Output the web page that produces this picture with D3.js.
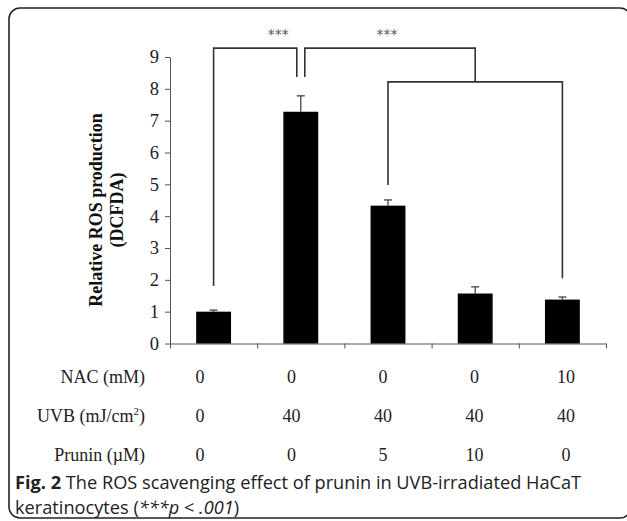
<!DOCTYPE html>
<html>
<head>
<meta charset="utf-8">
<script src="https://cdn.jsdelivr.net/npm/d3@7"></script>
<style>
  body { margin: 0; background: #fff; }
  svg { display: block; }
</style>
</head>
<body>
<svg id="chart" width="627" height="521"></svg>
<script>
// data
const groups = ['g1', 'g2', 'g3', 'g4', 'g5']
const rosValues = [1.0, 7.28, 4.33, 1.57, 1.38]
const rosErrors = [0.05, 0.5, 0.18, 0.21, 0.08]
const yTicks = [0, 1, 2, 3, 4, 5, 6, 7, 8, 9]

const rowLabels = ['NAC (mM)', 'UVB (mJ/cm²)', 'Prunin (µM)']
const nacRow = ['0', '0', '0', '0', '10']
const uvbRow = ['0', '40', '40', '40', '40']
const pruninRow = ['0', '0', '5', '10', '0']

// brackets: from group -> to group, top level, foot levels (data units)
const brackets = [
    {from: 0, to: 1, top: 9.28, footFrom: 1.81, footTo: 8.37, label: '***'},
    {from: 1, to: 'mid34', top: 9.28, footFrom: 8.37, footTo: 8.22, label: '***'},
    {from: 2, to: 4, top: 8.22, footFrom: 4.98, footTo: 2.05, label: ''}
]

const svg = d3.select('#chart')

// rounded frame of the figure panel
svg.append('rect')
    .attr('x', 9).attr('y', 8)
    .attr('width', 622).attr('height', 510)
    .attr('rx', 11)
    .attr('fill', 'none')
    .attr('stroke', '#222')
    .attr('stroke-width', 1.6)

const plot = {left: 170, right: 606, top: 57, bottom: 343.5}

const x = d3.scaleBand()
    .domain(groups)
    .range([plot.left, plot.right])
    .paddingInner(0.6)
    .paddingOuter(0.3)

const y = d3.scaleLinear()
    .domain([0, 9])
    .range([plot.bottom, plot.top])

const xEdge = d3.scaleLinear()
    .domain([0, groups.length])
    .range([plot.left, plot.right])

const cx = i => x(groups[i]) + x.bandwidth() / 2

// axes
const yAxis = d3.axisLeft(y)
    .tickValues(yTicks)
    .tickSize(5)
    .tickSizeOuter(0)
    .tickPadding(6)

const yAxisGroup = svg.append('g')
    .attr('transform', `translate(${plot.left},0)`)
    .call(yAxis)

yAxisGroup.selectAll('text')
    .attr('font-family', '"Liberation Serif", "Times New Roman", serif')
    .attr('font-size', 18.5)
    .attr('fill', '#222')
yAxisGroup.selectAll('line, path').attr('stroke', '#555')

const xAxis = d3.axisBottom(xEdge)
    .ticks(groups.length)
    .tickFormat('')
    .tickSize(5)
    .tickSizeOuter(0)

const xAxisGroup = svg.append('g')
    .attr('transform', `translate(0,${plot.bottom})`)
    .call(xAxis)
xAxisGroup.selectAll('line, path').attr('stroke', '#555')

// y title
svg.append('text')
    .attr('transform', `translate(102,210) rotate(-90)`)
    .attr('text-anchor', 'middle')
    .attr('font-family', '"Liberation Serif", "Times New Roman", serif')
    .attr('font-weight', 'bold')
    .attr('font-size', 18)
    .attr('fill', '#111')
    .selectAll('tspan')
    .data(['Relative ROS production', '(DCFDA)'])
    .enter().append('tspan')
        .attr('x', 0)
        .attr('dy', (d, i) => i ? 21 : 0)
        .text(d => d)

// error bars (upper only)
const errG = svg.append('g')
    .attr('stroke', '#444')
    .attr('stroke-width', 1.3)

errG.selectAll('line.stem')
    .data(rosValues)
    .enter().append('line')
        .attr('class', 'stem')
        .attr('x1', (d, i) => cx(i))
        .attr('x2', (d, i) => cx(i))
        .attr('y1', d => y(d))
        .attr('y2', (d, i) => y(d + rosErrors[i]))

errG.selectAll('line.cap')
    .data(rosValues)
    .enter().append('line')
        .attr('class', 'cap')
        .attr('x1', (d, i) => cx(i) - 4)
        .attr('x2', (d, i) => cx(i) + 4)
        .attr('y1', (d, i) => y(d + rosErrors[i]))
        .attr('y2', (d, i) => y(d + rosErrors[i]))

// bars
svg.append('g').selectAll('rect')
    .data(rosValues)
    .enter().append('rect')
        .attr('x', (d, i) => x(groups[i]))
        .attr('y', d => y(d))
        .attr('width', x.bandwidth())
        .attr('height', d => y(0) - y(d))
        .attr('fill', '#000')

// significance brackets
const legX = (b, side) => {
    const g = side == 'from' ? b.from : b.to
    if (g == 'mid34') return (cx(2) + cx(4)) / 2
    // the two brackets meeting on bar 2 sit either side of its centre
    if (g == 1 && side == 'to') return cx(1) - 4
    if (g == 1 && side == 'from') return cx(1) + 4
    return cx(g)
}

const bracketG = svg.append('g')

brackets.forEach(b => {
    const x1 = legX(b, 'from')
    const x2 = legX(b, 'to')
    bracketG.append('path')
        .attr('d', d3.line()([
            [x1, y(b.footFrom)],
            [x1, y(b.top)],
            [x2, y(b.top)],
            [x2, y(b.footTo)]
        ]))
        .attr('fill', 'none')
        .attr('stroke', '#333')
        .attr('stroke-width', 1.6)
    if (b.label) {
        const mx = b.from == 0 ? (cx(0) + cx(1)) / 2 + 21 : (x1 + x2) / 2 - 3
        bracketG.append('text')
            .attr('x', mx)
            .attr('y', y(b.top) - 9)
            .attr('text-anchor', 'middle')
            .attr('font-family', '"DejaVu Sans", sans-serif')
            .attr('font-size', 14)
            .attr('fill', '#555')
            .text(b.label)
    }
})

// condition table under the axis
const col = d3.scalePoint()
    .domain(groups)
    .range([200, 566])

const rowY = d3.scalePoint()
    .domain(rowLabels)
    .range([383, 461])

const tableFont = '"Liberation Serif", "Times New Roman", serif'
const rows = [nacRow, uvbRow, pruninRow]

rows.forEach((row, r) => {
    const label = svg.append('text')
        .attr('x', 145)
        .attr('y', rowY(rowLabels[r]))
        .attr('text-anchor', 'end')
        .attr('font-family', tableFont)
        .attr('font-size', 18)
        .attr('fill', '#222')
    if (r == 1) {
        label.append('tspan').text('UVB (mJ/cm')
        label.append('tspan').attr('font-size', 11).attr('dy', -7).text('2')
        label.append('tspan').attr('dy', 7).text(')')
    } else {
        label.text(rowLabels[r])
    }

    svg.append('g').selectAll('text')
        .data(row)
        .enter().append('text')
            .attr('x', (d, i) => col(groups[i]))
            .attr('y', rowY(rowLabels[r]))
            .attr('text-anchor', 'middle')
            .attr('font-family', tableFont)
            .attr('font-size', 18)
            .attr('fill', '#222')
            .text(d => d)
})

// caption
const capFont = '"Open Sans", "Noto Sans", sans-serif'
const cap1 = svg.append('text')
    .attr('x', 15).attr('y', 489)
    .attr('font-family', capFont)
    .attr('font-size', 18.2)
    .attr('fill', '#222')
cap1.append('tspan').attr('font-weight', 'bold').text('Fig. 2')
cap1.append('tspan').text(' The ROS scavenging effect of prunin in UVB-irradiated HaCaT')

const cap2 = svg.append('text')
    .attr('x', 15).attr('y', 514)
    .attr('font-family', capFont)
    .attr('font-size', 18.2)
    .attr('fill', '#222')
cap2.append('tspan').text('keratinocytes (')
cap2.append('tspan').attr('font-style', 'italic').text('***p')
cap2.append('tspan').text(' < ')
cap2.append('tspan').attr('font-style', 'italic').text('.001')
cap2.append('tspan').text(')')
</script>
</body>
</html>
